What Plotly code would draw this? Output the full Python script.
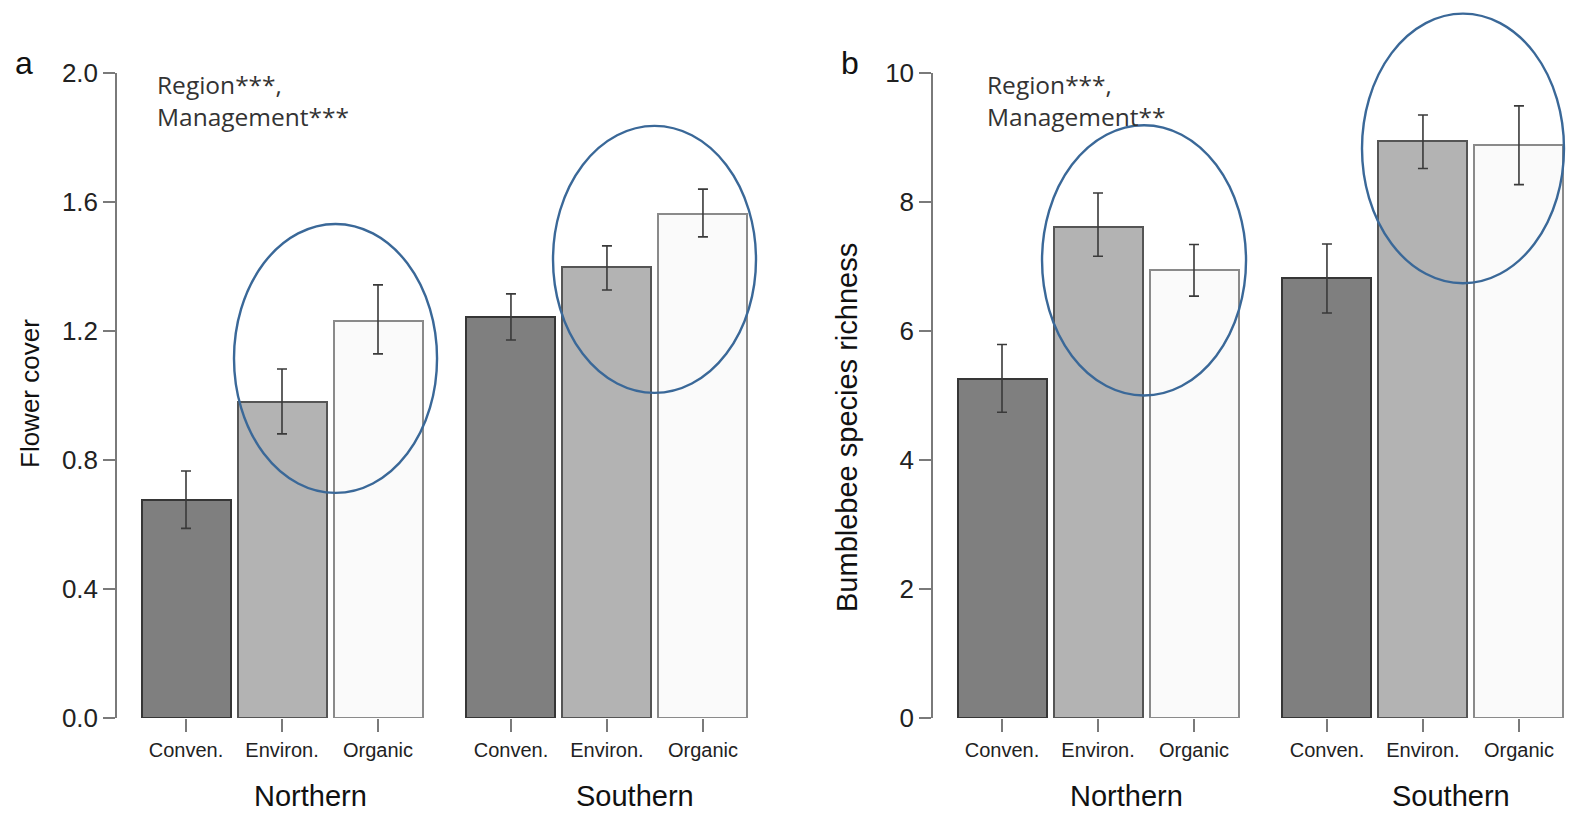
import plotly.graph_objects as go

# ---------------- data ----------------
regions = ["Northern", "Southern"]
management = ["Conven.", "Environ.", "Organic"]

flower_mean = [0.676, 0.980, 1.231, 1.243, 1.399, 1.563]
flower_low = [0.588, 0.881, 1.129, 1.172, 1.327, 1.492]
flower_high = [0.766, 1.082, 1.343, 1.315, 1.464, 1.640]
flower_ticks = [0.0, 0.4, 0.8, 1.2, 1.6, 2.0]
flower_sig = ["Region***,", "Management***"]

bee_mean = [5.26, 7.62, 6.94, 6.82, 8.94, 8.88]
bee_low = [4.74, 7.16, 6.54, 6.28, 8.52, 8.27]
bee_high = [5.79, 8.14, 7.34, 7.35, 9.35, 9.49]
bee_ticks = [0, 2, 4, 6, 8, 10]
bee_sig = ["Region***,", "Management**"]

# ---------------- styling / layout helpers ----------------
W, H = 1575, 815
fill_colors = ["#7f7f7f", "#b3b3b3", "#fafafa"]
edge_colors = ["#363636", "#555555", "#8a8a8a"]
GROUP_GAP = 0.385
BAR_W = 0.927
PX_PER_UNIT = 96.0

positions = [g * (len(management) + GROUP_GAP) + i
             for g in range(len(regions)) for i in range(len(management))]
group_centers = [g * (len(management) + GROUP_GAP) + (len(management) - 1) / 2
                 for g in range(len(regions))]

Y_BOTTOM_PX, Y_TOP_PX = 718, 73
panels = [
    dict(axis_px=117, first_center_px=186, right_px=762, ymax=2.0,
         mean=flower_mean, low=flower_low, high=flower_high, ticks=flower_ticks,
         fmt="{:.1f}", title="Flower cover", title_size=26, letter="a", sig=flower_sig,
         title_x_px=30, title_y_px=394, letter_x_px=24, sig_x_px=155,
         ellipses=[(0.50, 2.615, 0.698, 1.532), (3.823, 5.9375, 1.008, 1.836)]),
    dict(axis_px=933, first_center_px=1002, right_px=1575, ymax=10,
         mean=bee_mean, low=bee_low, high=bee_high, ticks=bee_ticks,
         fmt="{:d}", title="Bumblebee species richness", title_size=29, letter="b",
         sig=bee_sig, title_x_px=847, title_y_px=428, letter_x_px=850, sig_x_px=985,
         ellipses=[(0.417, 2.542, 5.0, 9.19), (3.75, 5.854, 6.74, 10.92)]),
]

fig = go.Figure()
annotations = []
shapes = []

for k, p in enumerate(panels):
    xa = "x" if k == 0 else "x2"
    ya = "y" if k == 0 else "y2"
    xr = [(p["axis_px"] - p["first_center_px"]) / PX_PER_UNIT,
          (p["right_px"] - p["first_center_px"]) / PX_PER_UNIT]
    xdom = [p["axis_px"] / W, p["right_px"] / W]
    ydom = [1 - Y_BOTTOM_PX / H, 1 - Y_TOP_PX / H]
    yr = [0, p["ymax"]]

    colors = fill_colors * len(regions)
    edges = edge_colors * len(regions)
    fig.add_trace(go.Bar(
        x=positions, y=p["mean"], width=BAR_W,
        marker=dict(color=colors, line=dict(color=edges, width=2)),
        error_y=dict(type="data", symmetric=False,
                     array=[h - m for h, m in zip(p["high"], p["mean"])],
                     arrayminus=[m - l for m, l in zip(p["mean"], p["low"])],
                     color="#3a3a3a", thickness=1.6, width=5),
        xaxis=xa, yaxis=ya, showlegend=False, hoverinfo="skip"))

    axis_suffix = "" if k == 0 else "2"
    fig.layout["xaxis" + axis_suffix] = dict(
        domain=xdom, range=xr, anchor=ya, showline=False, showgrid=False,
        zeroline=False, ticks="outside", ticklen=13, tickwidth=1.5, automargin=False,
        tickcolor="#7a7a7a", tickvals=positions,
        ticktext=management * len(regions), ticklabelstandoff=1,
        tickfont=dict(family="Liberation Sans Narrow, Liberation Sans, Arial", size=20,
                      color="#222222"))
    fig.layout["yaxis" + axis_suffix] = dict(
        domain=ydom, range=yr, anchor=xa, showline=True, linecolor="#7a7a7a",
        linewidth=1.5, showgrid=False, zeroline=False, ticks="outside", automargin=False,
        ticklen=12, tickwidth=1.5, tickcolor="#7a7a7a", tickvals=p["ticks"],
        ticktext=[p["fmt"].format(t) for t in p["ticks"]], ticklabelstandoff=0,
        tickfont=dict(family="Liberation Sans, Arial", size=26, color="#222222"))

    # group labels
    for g, reg in enumerate(regions):
        annotations.append(dict(
            x=group_centers[g], xref=xa, xshift=28, y=1 - 796 / H, yref="paper",
            text=reg, showarrow=False, xanchor="center", yanchor="middle",
            font=dict(family="Liberation Sans Narrow, Liberation Sans, Arial",
                      size=29, color="#111111")))
    # y title
    annotations.append(dict(
        x=p["title_x_px"] / W, y=1 - p["title_y_px"] / H, xref="paper", yref="paper",
        text=p["title"], textangle=-90, showarrow=False, xanchor="center",
        yanchor="middle",
        font=dict(family="Liberation Sans, Arial", size=p["title_size"], color="#111111")))
    # panel letter
    annotations.append(dict(
        x=p["letter_x_px"] / W, y=1 - 63 / H, xref="paper", yref="paper",
        text=p["letter"], showarrow=False, xanchor="center", yanchor="middle",
        font=dict(family="Liberation Sans, Arial", size=32, color="#111111")))
    # significance text (two lines in one block)
    annotations.append(dict(
        x=p["sig_x_px"] / W, y=1 - 101 / H, xref="paper", yref="paper",
        text="<br>".join(p["sig"]), showarrow=False, xanchor="left", align="left",
        yanchor="middle",
        font=dict(family="Open Sans, Noto Sans", size=24.5, color="#333333")))

    # highlight ellipses (given in bar units / data units, converted to paper)
    def to_px_x(u, p=p):
        return p["first_center_px"] + u * PX_PER_UNIT

    def to_px_y(v, p=p):
        return Y_BOTTOM_PX - v / p["ymax"] * (Y_BOTTOM_PX - Y_TOP_PX)

    for (x0, x1, y0, y1) in p["ellipses"]:
        shapes.append(dict(
            type="circle", xref="paper", yref="paper",
            x0=to_px_x(x0) / W, x1=to_px_x(x1) / W,
            y0=1 - to_px_y(y0) / H, y1=1 - to_px_y(y1) / H,
            line=dict(color="#3a6898", width=2.4), fillcolor="rgba(0,0,0,0)",
            layer="above"))

fig.update_layout(
    width=W, height=H, autosize=False,
    margin=dict(l=0, r=0, t=0, b=0, autoexpand=False),
    paper_bgcolor="white", plot_bgcolor="white",
    bargap=0, annotations=annotations, shapes=shapes)

fig.write_html("out.html", config={"displayModeBar": False},
               post_script="document.body.style.margin='0';document.body.style.overflow='hidden';")
